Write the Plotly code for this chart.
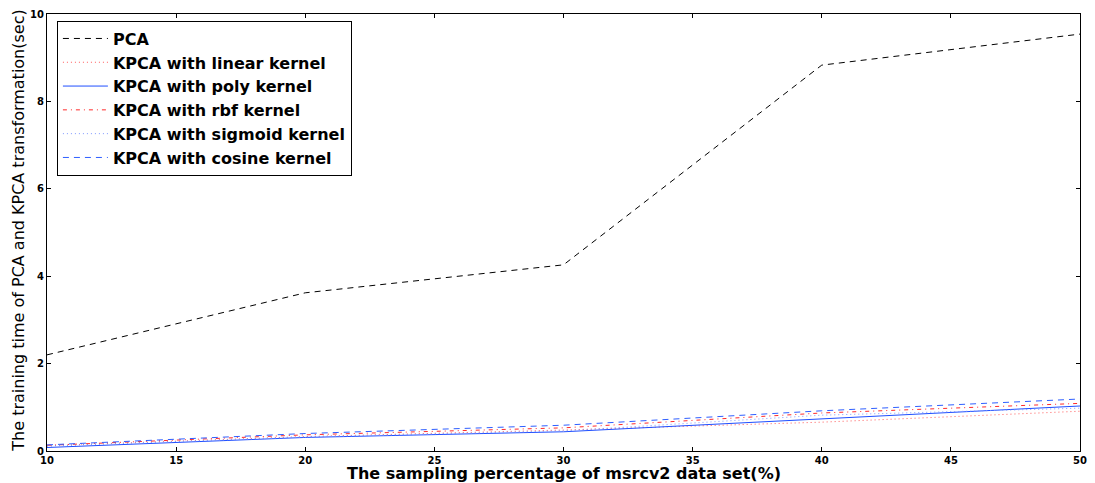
import plotly.graph_objects as go

x_pct = [10, 20, 30, 40, 50]
pca = [2.2, 3.62, 4.26, 8.83, 9.54]
kpca_linear = [0.12, 0.33, 0.48, 0.66, 0.91]
kpca_poly = [0.08, 0.31, 0.44, 0.74, 1.03]
kpca_rbf = [0.13, 0.37, 0.53, 0.87, 1.09]
kpca_sigmoid = [0.11, 0.32, 0.46, 0.82, 0.98]
kpca_cosine = [0.14, 0.40, 0.59, 0.92, 1.19]

x_ticks = [10, 15, 20, 25, 30, 35, 40, 45, 50]
y_ticks = [0, 2, 4, 6, 8, 10]

series = [
    ("PCA", pca, "#000000", "6px,5px"),
    ("KPCA with linear kernel", kpca_linear, "#ff5a5a", "1px,3px"),
    ("KPCA with poly kernel", kpca_poly, "#1f4fff", "solid"),
    ("KPCA with rbf kernel", kpca_rbf, "#ff2a2a", "4px,4px,1px,4px"),
    ("KPCA with sigmoid kernel", kpca_sigmoid, "#7f99ff", "1px,3px"),
    ("KPCA with cosine kernel", kpca_cosine, "#2f5fff", "6px,5px"),
]

fig = go.Figure()
for name, vals, color, dash in series:
    fig.add_trace(go.Scatter(x=x_pct, y=vals, mode="lines", name=name,
                             line=dict(color=color, dash=dash, width=1)))

font_fam = "DejaVu Sans"
fig.update_layout(
    width=1095, height=483,
    margin=dict(l=47, r=8, t=13, b=32),
    plot_bgcolor="white", paper_bgcolor="white",
    font=dict(family=font_fam, color="black"),
    showlegend=True,
    legend=dict(x=0.0096, y=0.985, xanchor="left", yanchor="top",
                bordercolor="black", borderwidth=1, bgcolor="white",
                font=dict(size=16, family=font_fam, weight="bold"),
                tracegroupgap=0, itemwidth=45),
    annotations=[
        dict(text="The sampling percentage of msrcv2 data set(%)", xref="paper", yref="paper",
             x=0.5, y=-0.0525, xanchor="center", yanchor="middle", showarrow=False,
             font=dict(size=16, family=font_fam, weight="bold")),
        dict(text="The training time of PCA and KPCA transformation(sec)", xref="paper", yref="paper",
             x=-0.0279, y=0.5046, xanchor="center", yanchor="middle", showarrow=False, textangle=-90,
             font=dict(size=16, family=font_fam)),
    ],
)
axis_common = dict(showgrid=False, zeroline=False, showline=True, linecolor="black",
                   linewidth=1, mirror="ticks", ticks="inside", ticklen=4,
                   tickcolor="black",
                   tickfont=dict(size=10, family=font_fam, weight="bold"))
fig.update_xaxes(range=[10, 50], tickvals=x_ticks, **axis_common)
fig.update_yaxes(range=[0, 10], tickvals=y_ticks, **axis_common)

fig.write_html("out.html", config={"displayModeBar": False},
               post_script="document.body.style.margin='0';document.body.style.overflow='hidden';document.documentElement.style.overflow='hidden';")
